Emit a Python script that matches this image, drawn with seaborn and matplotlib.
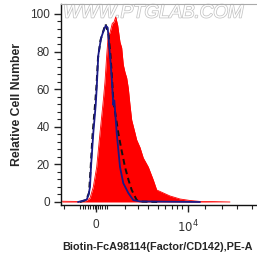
import numpy as np
import pandas as pd
import seaborn as sns
import matplotlib.pyplot as plt
import matplotlib.patheffects as pe

sns.set_style('ticks')
plt.rcParams['font.family'] = ['Liberation Sans', 'DejaVu Sans']

# display channel (0 at the "0" tick, 92 at the 10^4 tick) and relative counts
red_x = [-34, -20, -14, -11, -9, -6, -2.7, 0.7, 4, 7.3, 9, 10.7, 12.3, 14, 16.3, 18, 19.7,
         21.7, 24, 25.7, 27.3, 29, 30.7, 32.3, 34, 35.7, 39, 40.7, 44, 47.3, 52.3, 57.3,
         60.7, 67.3, 74, 84, 94, 104, 119, 134]
red_y = [0.4, 0.3, 0.2, 0.5, 1.0, 2.0, 8.0, 18.6, 36.7, 54.0, 64.0, 78.0, 89.0, 90.0,
         95.0, 95.7, 98.4, 94.0, 85.0, 82.0, 73.0, 69.0, 66.0, 60.6, 51.6, 43.6, 36.7,
         33.0, 29.0, 23.4, 18.6, 11.7, 6.4, 4.8, 3.2, 1.6, 0.8, 0.3, 0.2, 0.0]

blue_x = [-18, -14, -9.3, -7.5, -6, -5, -2.7, -0.3, 0.7, 2.3, 5, 7.3, 9.7, 11.7, 12,
          14, 15.7, 17.3, 18.3, 20.7, 24, 27.3, 32.3, 37.3, 44, 64, 104]
blue_y = [0.0, 0.5, 1.3, 3.7, 8.0, 18.6, 36.7, 51.6, 60.6, 78.0, 87.0, 90.6, 93.8,
          92.7, 90.6, 78.0, 66.0, 51.6, 54.0, 36.7, 18.6, 10.0, 4.8, 1.0, 0.3, 0.2, 0.0]

iso_x = [-16, -10, -7, -5.5, -3.5, -1, 0.5, 2, 4.5, 7, 9.5, 11, 12.5, 14.5, 16, 17.3,
         22.3, 25.5, 29, 32.5, 35.7, 40.7, 46, 64]
iso_y = [0.0, 1.0, 4.8, 17.0, 35.6, 51.6, 62.0, 76.6, 86.0, 90.4, 94.7, 92.0, 89.0,
         78.0, 66.0, 54.0, 36.7, 27.7, 18.6, 11.7, 6.4, 1.0, 0.2, 0.0]

y_ticks = [0, 20, 40, 60, 80, 100]
x_ticks = [0, 92]
x_tick_labels = ['0', r'$10^4$']
x_minor = [-32, -16, -13.5, -11, -8.5, -6, -3.5, -1.5, 1.5, 3.5, 6, 8.5, 11,
           29, 42, 52, 62, 69, 76, 81, 86, 109, 126, 141, 156, 171]

red = pd.DataFrame({'x': red_x, 'y': red_y})
blue = pd.DataFrame({'x': blue_x, 'y': blue_y})
iso = pd.DataFrame({'x': iso_x, 'y': iso_y})

fig = plt.figure(figsize=(2.57, 2.60), dpi=100)
ax = fig.add_axes([61 / 257, 55 / 260, 209 / 257, 201 / 260])

ax.fill_between(red['x'], red['y'], 0, color='#ff0000', linewidth=0, zorder=1)
sns.lineplot(data=red, x='x', y='y', sort=False, color='#ff0000', linewidth=0.6, ax=ax, zorder=1)
sns.lineplot(data=blue, x='x', y='y', sort=False, color='#1a1a86', linewidth=1.3, ax=ax, zorder=3)
sns.lineplot(data=iso, x='x', y='y', sort=False, color='#111111', linewidth=1.4,
             linestyle=(0, (3, 2)), ax=ax, zorder=2)

ax.set_xlim(-35, 174)
ax.set_ylim(-1.6, 105.3)

ax.set_yticks(y_ticks)
ax.set_yticks(np.arange(0, 101, 4), minor=True)
ax.set_xticks(x_ticks)
ax.set_xticklabels(x_tick_labels)
ax.set_xticks(x_minor, minor=True)
ax.tick_params(which='major', length=5, width=1, color='#222222', labelsize=8.5,
               labelcolor='#333333', pad=3)
ax.tick_params(which='minor', length=3, width=0.8, color='#222222')
ax.tick_params(axis='x', which='major', pad=5)

for s in ['left', 'bottom']:
    ax.spines[s].set_color('#111111')
    ax.spines[s].set_linewidth(1)
ax.spines['top'].set_color('#aaaaaa')
ax.spines['top'].set_linewidth(0.8)
ax.spines['right'].set_visible(False)

ax.set_ylabel('Relative Cell Number', fontsize=8.8, fontweight='bold')
ax.yaxis.set_label_coords((17 - 61) / 209, 0.5)
ax.yaxis.label.set_va('center')
ax.set_xlabel('Biotin-FcA98114(Factor/CD142),PE-A', fontsize=7.8, fontweight='bold')
ax.xaxis.set_label_coords(1 / 209, (205 - 247) / 201)
ax.xaxis.label.set_ha('left')
ax.xaxis.label.set_va('center')

wm = ax.text(2 / 209, 0.955, 'WWW.PTGLAB.COM', transform=ax.transAxes, fontsize=13.5,
             style='italic', color='white', va='center', ha='left', zorder=0)
wm.set_path_effects([pe.Stroke(linewidth=1.1, foreground='#c4c4c4'), pe.Normal()])

fig.savefig('out.png', dpi=100)
